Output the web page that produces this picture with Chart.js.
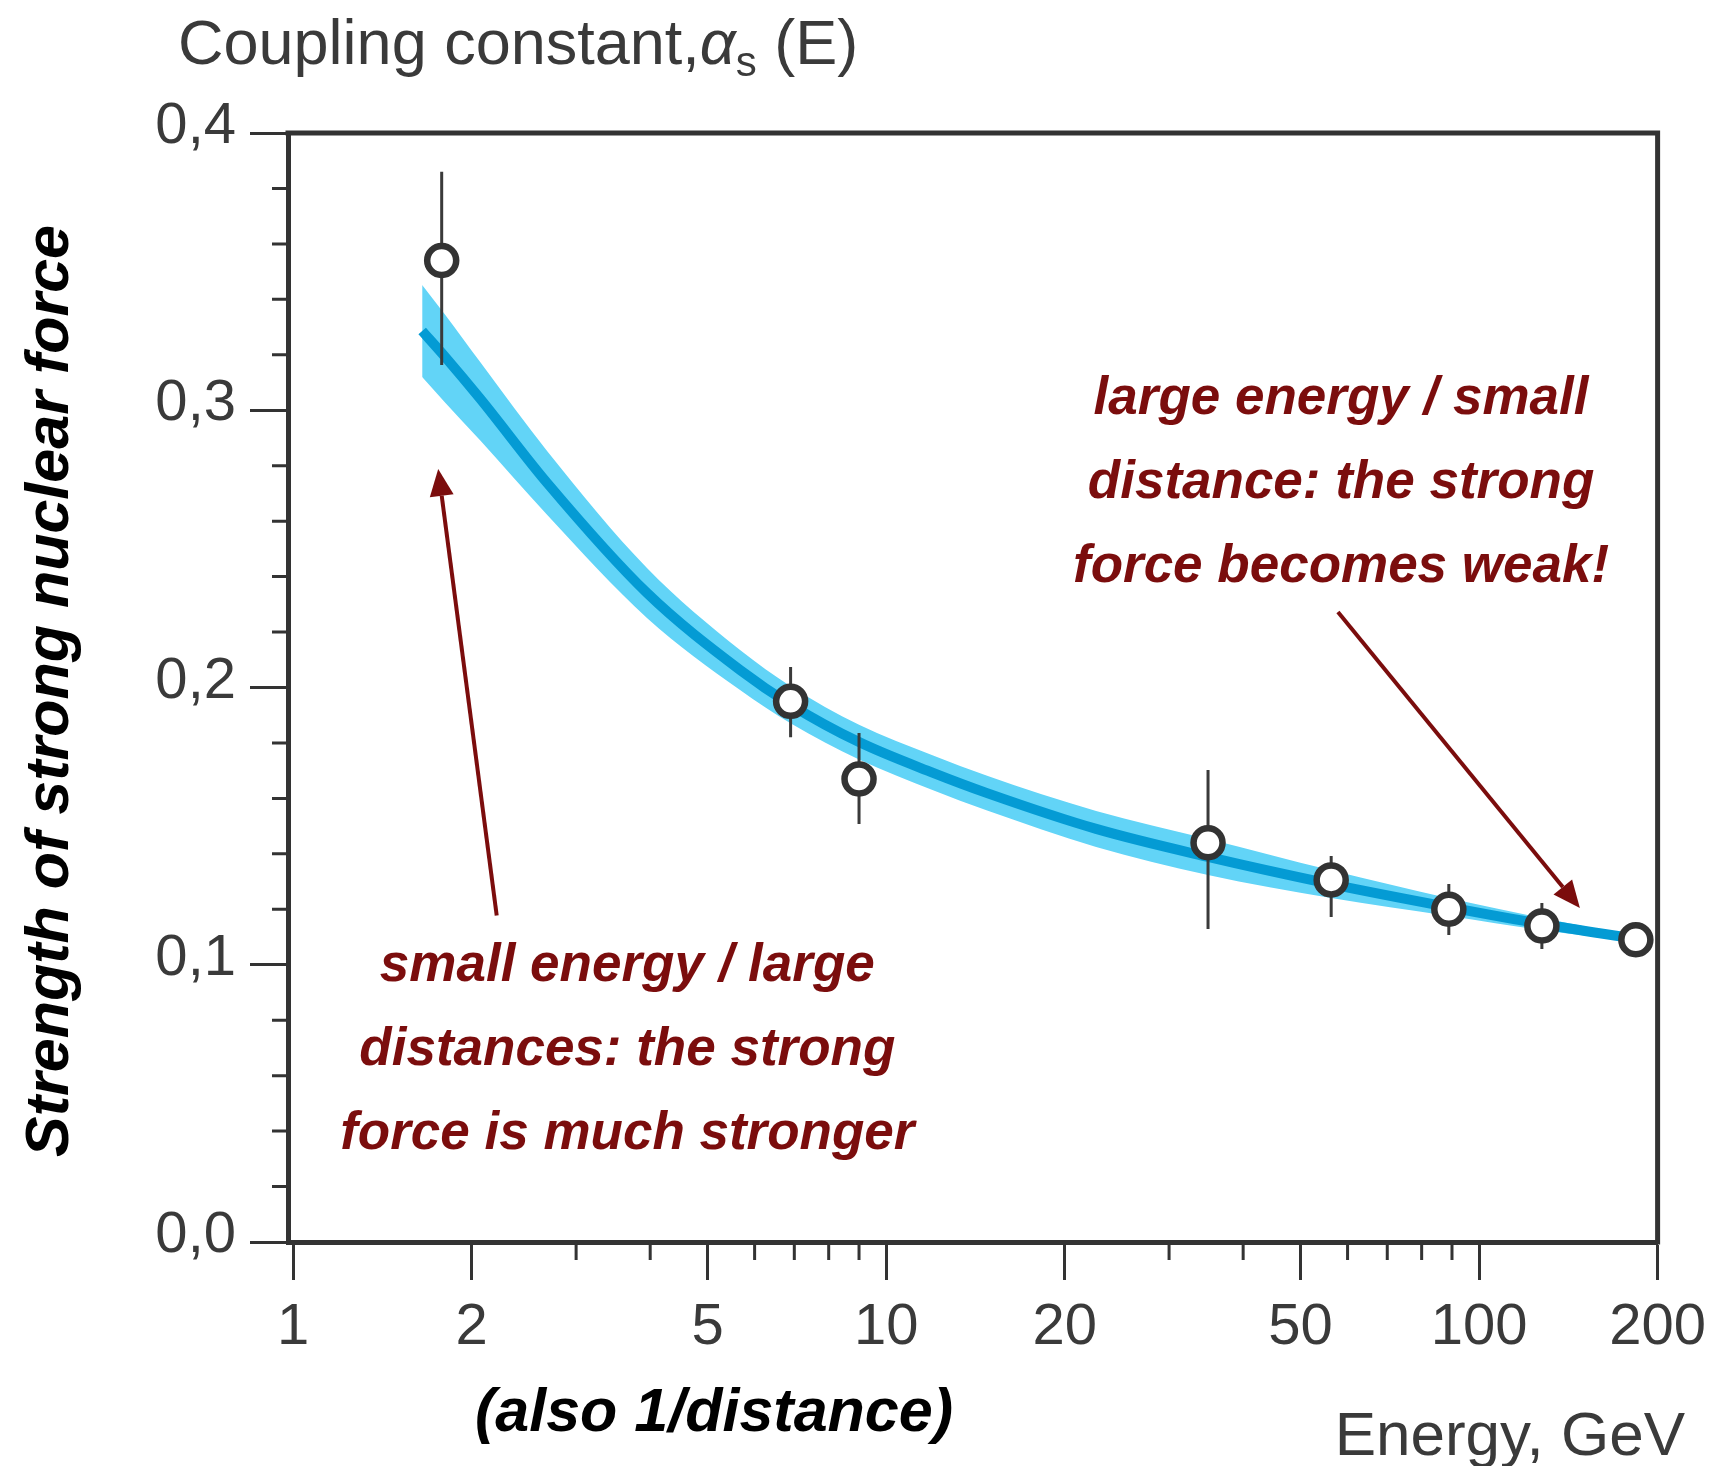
<!DOCTYPE html>
<html lang="en">
<head>
<meta charset="UTF-8">
<title>Coupling constant alpha_s (E)</title>
<script src="https://cdn.jsdelivr.net/npm/chart.js"></script>
<style>
  body { margin: 0; background: #fff; }
  #wrap { width: 1719px; height: 1466px; }
</style>
</head>
<body>
<div id="wrap"><canvas id="alphaChart"></canvas></div>
<script>
// measured points (energy in GeV, coupling constant, error bar ends)
const energies   = [1.78, 6.9, 9.0, 34.9, 56.3, 88.9, 127.6, 183.8];
const alphaValues = [0.354, 0.195, 0.167, 0.144, 0.1306, 0.120, 0.114, 0.109];
const errHigh    = [0.386, 0.2074, 0.1836, 0.1702, 0.1392, 0.1291, 0.1223, 0.109];
const errLow     = [0.3163, 0.1821, 0.1508, 0.1129, 0.1172, 0.1107, 0.1057, 0.109];

// QCD curve with its band
const curveEnergies = [1.65, 1.8, 2.07, 2.68, 3.95, 5.67, 6.91, 9.0, 12.0, 14.8, 22.6, 34.9, 56.3, 88.9, 127.6, 184];
const curveMid   = [0.3286, 0.3195, 0.3040, 0.2738, 0.2341, 0.2063, 0.1937, 0.1803, 0.1692, 0.1619, 0.1490, 0.1389, 0.1291, 0.1208, 0.1147, 0.1093];
const curveUpper = [0.3452, 0.3347, 0.3172, 0.2853, 0.2431, 0.2135, 0.2004, 0.1866, 0.1755, 0.1682, 0.1555, 0.1454, 0.1341, 0.1240, 0.1169, 0.1104];
const curveLower = [0.3120, 0.3030, 0.2890, 0.2623, 0.2251, 0.1991, 0.1870, 0.1740, 0.1629, 0.1556, 0.1425, 0.1324, 0.1241, 0.1176, 0.1125, 0.1082];

// axis ticks
const energyTicks = [1, 2, 5, 10, 20, 50, 100, 200];
const energyMinorTicks = [3, 4, 6, 7, 8, 9, 30, 40, 60, 70, 80, 90];
const alphaTicks = [0, 0.1, 0.2, 0.3, 0.4];
const alphaMinorTicks = [0.02, 0.04, 0.06, 0.08, 0.12, 0.14, 0.16, 0.18, 0.22, 0.24, 0.26, 0.28, 0.32, 0.34, 0.36, 0.38];

// annotations
const rightNote = ['large energy / small', 'distance: the strong', 'force becomes weak!'];
const leftNote = ['small energy / large', 'distances: the strong', 'force is much stronger'];
const rightNoteAt = [58.5, 0.2986];
const leftNoteAt = [3.66, 0.0941];
const leftArrow = [[2.204, 0.1178], [1.756, 0.2788]];
const rightArrow = [[57.8, 0.2272], [147.9, 0.1205]];

const gray = '#3a3a3a';
const darkRed = '#7b0d0d';
const sans = '"Liberation Sans", Arial, Helvetica, sans-serif';

const pointData = energies.map((e, i) => ({ x: e, y: alphaValues[i] }));
const errorData = [];
energies.forEach((e, i) => {
    errorData.push({ x: e, y: errLow[i] }, { x: e, y: errHigh[i] }, { x: e, y: null });
});
const midData = curveEnergies.map((e, i) => ({ x: e, y: curveMid[i] }));
const upperData = curveEnergies.map((e, i) => ({ x: e, y: curveUpper[i] }));
const lowerData = curveEnergies.map((e, i) => ({ x: e, y: curveLower[i] }));

function drawArrow(ctx, x1, y1, x2, y2) {
    const ang = Math.atan2(y2 - y1, x2 - x1);
    const headLen = 27, headHalf = 12;
    const bx = x2 - headLen * Math.cos(ang), by = y2 - headLen * Math.sin(ang);
    ctx.beginPath();
    ctx.moveTo(x1, y1);
    ctx.lineTo(bx, by);
    ctx.stroke();
    ctx.beginPath();
    ctx.moveTo(x2, y2);
    ctx.lineTo(bx + headHalf * Math.sin(ang), by - headHalf * Math.cos(ang));
    ctx.lineTo(bx - headHalf * Math.sin(ang), by + headHalf * Math.cos(ang));
    ctx.closePath();
    ctx.fill();
}

const decorations = {
    id: 'decorations',
    afterDraw(chart) {
        const ctx = chart.ctx;
        const area = chart.chartArea;
        const xs = chart.scales.x, ys = chart.scales.y;
        ctx.save();

        // top and right frame
        ctx.strokeStyle = '#333';
        ctx.lineWidth = 5;
        ctx.beginPath();
        ctx.moveTo(area.left - 2.5, area.top);
        ctx.lineTo(area.right, area.top);
        ctx.lineTo(area.right, area.bottom + 2.5);
        ctx.stroke();

        // minor ticks
        ctx.lineWidth = 3;
        ctx.beginPath();
        energyMinorTicks.forEach(v => {
            const px = xs.getPixelForValue(v);
            ctx.moveTo(px, area.bottom);
            ctx.lineTo(px, area.bottom + 18);
        });
        alphaMinorTicks.forEach(v => {
            const py = ys.getPixelForValue(v);
            ctx.moveTo(area.left, py);
            ctx.lineTo(area.left - 16, py);
        });
        ctx.stroke();

        // title
        ctx.fillStyle = gray;
        ctx.textBaseline = 'alphabetic';
        ctx.textAlign = 'left';
        let tx = 178;
        const ty = 64;
        ctx.font = '63px ' + sans;
        ctx.fillText('Coupling constant,', tx, ty);
        tx += ctx.measureText('Coupling constant,').width;
        ctx.font = 'italic 63px ' + sans;
        ctx.fillText('\u03b1', tx, ty);
        tx += ctx.measureText('\u03b1').width;
        ctx.font = '42px ' + sans;
        ctx.fillText('s', tx, ty + 12);
        tx += ctx.measureText('s').width;
        ctx.font = '63px ' + sans;
        ctx.fillText(' (E)', tx, ty);

        // axis titles
        ctx.font = '62px ' + sans;
        ctx.textAlign = 'right';
        ctx.fillText('Energy, GeV', 1685, 1455);

        ctx.fillStyle = '#000';
        ctx.font = 'italic bold 61px ' + sans;
        ctx.textAlign = 'center';
        ctx.fillText('(also 1/distance)', 714, 1431);

        ctx.save();
        ctx.translate(68, 691);
        ctx.rotate(-Math.PI / 2);
        ctx.fillText('Strength of strong nuclear force', 0, 0);
        ctx.restore();

        // annotations
        ctx.fillStyle = darkRed;
        ctx.strokeStyle = darkRed;
        ctx.font = 'italic bold 53px ' + sans;
        ctx.textAlign = 'center';
        const lineGap = 84;
        [[rightNote, rightNoteAt], [leftNote, leftNoteAt]].forEach(([lines, at]) => {
            const cx = xs.getPixelForValue(at[0]);
            const cy = ys.getPixelForValue(at[1]);
            lines.forEach((t, i) => ctx.fillText(t, cx, cy + i * lineGap));
        });

        ctx.lineWidth = 4;
        [leftArrow, rightArrow].forEach(a => {
            drawArrow(ctx,
                xs.getPixelForValue(a[0][0]), ys.getPixelForValue(a[0][1]),
                xs.getPixelForValue(a[1][0]), ys.getPixelForValue(a[1][1]));
        });

        ctx.restore();
    }
};

new Chart(document.getElementById('alphaChart'), {
    type: 'line',
    data: {
        datasets: [
            {
                label: 'data',
                data: pointData,
                showLine: false,
                pointRadius: 14.5,
                pointBorderWidth: 6.5,
                pointBorderColor: '#333',
                pointBackgroundColor: '#fff',
                clip: false
            },
            {
                label: 'errors',
                data: errorData,
                borderColor: gray,
                borderWidth: 3,
                pointRadius: 0,
                spanGaps: false,
                tension: 0,
                clip: false
            },
            {
                label: 'QCD',
                data: midData,
                borderColor: '#049bd4',
                borderWidth: 10,
                pointRadius: 0,
                cubicInterpolationMode: 'monotone'
            },
            {
                label: 'upper',
                data: upperData,
                borderWidth: 0,
                borderColor: 'rgba(0,0,0,0)',
                backgroundColor: '#62d4f7',
                pointRadius: 0,
                fill: '+1',
                cubicInterpolationMode: 'monotone'
            },
            {
                label: 'lower',
                data: lowerData,
                borderWidth: 0,
                borderColor: 'rgba(0,0,0,0)',
                pointRadius: 0,
                fill: false,
                cubicInterpolationMode: 'monotone'
            }
        ]
    },
    options: {
        responsive: true,
        maintainAspectRatio: false,
        animation: false,
        layout: { padding: { top: 133, right: 61, bottom: 0, left: 0 } },
        plugins: {
            legend: { display: false },
            tooltip: { enabled: false }
        },
        scales: {
            x: {
                type: 'logarithmic',
                min: 0.98,
                max: 200,
                bounds: 'data',
                afterBuildTicks: scale => {
                    scale.ticks = energyTicks.map(v => ({ value: v }));
                },
                afterFit: scale => { scale.height = 224; },
                grid: {
                    drawOnChartArea: false,
                    drawTicks: true,
                    tickLength: 38,
                    tickWidth: 3,
                    tickColor: '#333'
                },
                border: { display: true, color: '#333', width: 5 },
                ticks: {
                    autoSkip: false,
                    maxRotation: 0,
                    padding: 13,
                    color: gray,
                    font: { family: sans, size: 58 },
                    callback: v => String(v)
                }
            },
            y: {
                type: 'linear',
                min: 0,
                max: 0.4,
                afterBuildTicks: scale => {
                    scale.ticks = alphaTicks.map(v => ({ value: v }));
                },
                afterFit: scale => { scale.width = 288; },
                grid: {
                    drawOnChartArea: false,
                    drawTicks: true,
                    tickLength: 38,
                    tickWidth: 3,
                    tickColor: '#333'
                },
                border: { display: true, color: '#333', width: 5 },
                ticks: {
                    padding: 14,
                    labelOffset: -6,
                    color: gray,
                    font: { family: sans, size: 58 },
                    callback: v => v.toFixed(1).replace('.', ',')
                }
            }
        }
    },
    plugins: [decorations]
});
</script>
</body>
</html>
